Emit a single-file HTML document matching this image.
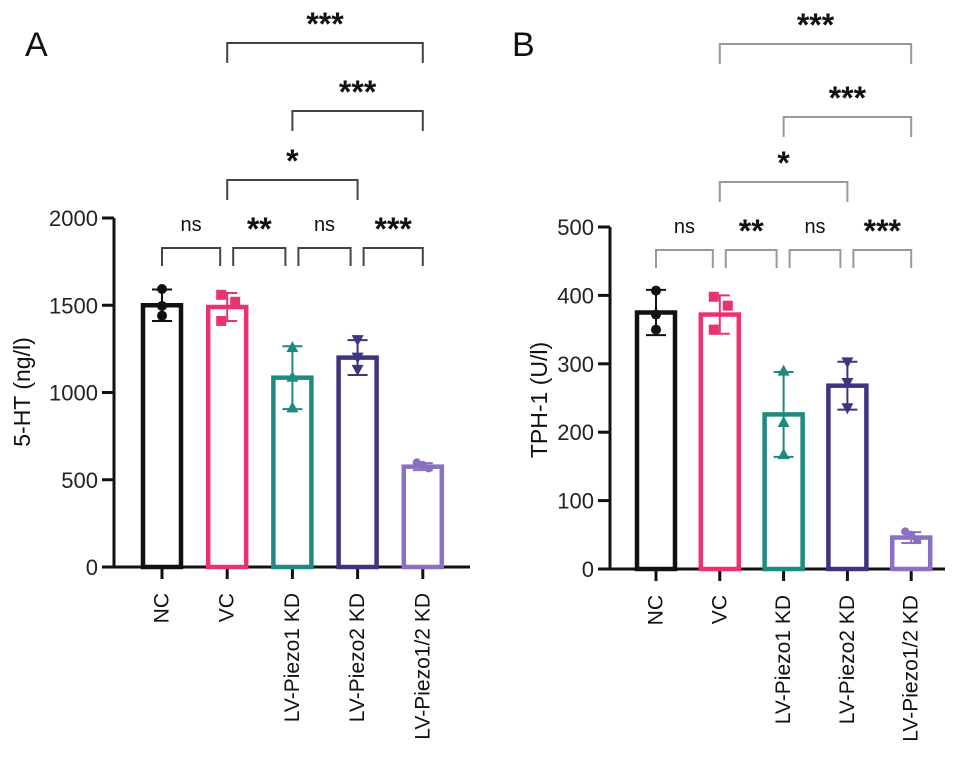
<!DOCTYPE html>
<html><head><meta charset="utf-8"><style>
body{margin:0;background:#fff}
svg{display:block;font-family:"Liberation Sans",Arial,sans-serif}
</style></head><body>
<svg id="fig" width="969" height="782" viewBox="0 0 969 782" xmlns="http://www.w3.org/2000/svg">
<text x="25" y="56" font-size="34" fill="#111">A</text>
<text x="512" y="56" font-size="34" fill="#111">B</text>
</svg>
<script>
const categories = ["NC","VC","LV-Piezo1 KD","LV-Piezo2 KD","LV-Piezo1/2 KD"];
const colors = ["#111111","#e8336e","#1f8a80","#3c3580","#8a6fc2"];
const markers = ["circle","square","up","down","diamond"];
// Panel A: 5-HT
const aMeans = [1500,1490,1085,1200,575];
const aSD = [90,80,180,100,20];
const aPoints = [[1593,1496,1440],[1560,1520,1410],[1260,1090,915],[1300,1200,1130],[600,585,565]];
const aTicks = [0,500,1000,1500,2000];
// Panel B: TPH-1
const bMeans = [375,372,226,268,46];
const bSD = [33,28,62,35,8];
const bPoints = [[407,372,350],[398,385,350],[290,215,168],[302,272,235],[55,50,42]];
const bTicks = [0,100,200,300,400,500];
const sigLabels = ["ns","**","ns","***"];
const sigTop = [["***",1,4],["***",2,4],["*",1,3]];

const NS="http://www.w3.org/2000/svg";
const svg=document.getElementById('fig');
function mk(tag,attrs,parent){const e=document.createElementNS(NS,tag);for(const k in attrs)e.setAttribute(k,attrs[k]);(parent||svg).appendChild(e);return e;}

function panel(cfg){
  const g=mk('g',{});
  
  
  const y=v=>cfg.y0-(v-0)/(cfg.max)*(cfg.y0-cfg.yTop);
  const x=i=>cfg.x0+i*cfg.step;
  const ya=mk('line',{x1:cfg.ax,y1:cfg.yTop,x2:cfg.ax,y2:cfg.y0,stroke:'#111','stroke-width':3},g);
  
  
  const xa=mk('line',{x1:cfg.ax-12,y1:cfg.y0,x2:cfg.axEnd,y2:cfg.y0,stroke:'#111','stroke-width':3},g);
  
  
  cfg.ticks.forEach(t=>{
    mk('line',{x1:cfg.ax-12,y1:y(t),x2:cfg.ax,y2:y(t),stroke:'#111','stroke-width':3},g);
    const tl=mk('text',{x:cfg.ax-16,y:y(t)+8,'font-size':22,'text-anchor':'end',fill:'#222'},g);
    tl.textContent=t;
    
    
  });
  const yt=mk('text',{x:cfg.titleX,y:cfg.titleY,'font-size':23,'text-anchor':'middle',fill:'#111',transform:`rotate(-90 ${cfg.titleX} ${cfg.titleY})`},g);
  yt.textContent=cfg.title;
  
  
  categories.forEach((c,i)=>{
    const cx=x(i), col=colors[i];
    mk('line',{x1:cx,y1:cfg.y0,x2:cx,y2:cfg.y0+12,stroke:'#111','stroke-width':3},g);
    const lb=mk('text',{x:cx,y:cfg.y0+26,'font-size':21,'text-anchor':'end','dominant-baseline':'central',fill:'#111',transform:`rotate(-90 ${cx} ${cfg.y0+26})`},g);
    lb.textContent=c;
    
    
    const top=y(cfg.means[i]);
    const b=mk('rect',{x:cx-19,y:top,width:38,height:cfg.y0-top,fill:'none',stroke:col,'stroke-width':4.5},g);
    
    
    const hi=y(cfg.means[i]+cfg.sd[i]), lo=y(cfg.means[i]-cfg.sd[i]);
    const eb=mk('path',{d:`M${cx} ${hi}V${lo}M${cx-10} ${hi}H${cx+10}M${cx-10} ${lo}H${cx+10}`,stroke:col,'stroke-width':2,fill:'none'},g);
    
    
    cfg.points[i].forEach((p,j)=>{
      const py=y(p), px=cx+(j===1?(i===1?8:0):(i===1?-6:0)), m=markers[i]; let e;
      if(m==='circle') e=mk('circle',{cx:px,cy:py,r:5,fill:col},g);
      else if(m==='square') e=mk('rect',{x:px-5,y:py-5,width:10,height:10,fill:col},g);
      else if(m==='up') e=mk('path',{d:`M${px} ${py-6}L${px+6} ${py+5}L${px-6} ${py+5}Z`,fill:col},g);
      else if(m==='down') e=mk('path',{d:`M${px} ${py+6}L${px+6} ${py-5}L${px-6} ${py-5}Z`,fill:col},g);
      else e=mk('circle',{cx:px+(j-1)*6,cy:py,r:4,fill:col},g);
      
      
    });
  });
  sigLabels.forEach((s,i)=>{
    const x1=x(i)+(i===0?0:6), x2=x(i+1)-(i===3?0:7), by=cfg.brY;
    const br=mk('path',{d:`M${x1} ${by+18}V${by}H${x2}V${by+18}`,stroke:cfg.brCol,'stroke-width':2,fill:'none'},g);
    
    
    const t=mk('text',{x:(x1+x2)/2,y:by-(s==='ns'?17:8),'font-size':s==='ns'?20:32,'font-weight':s==='ns'?'normal':'bold','text-anchor':'middle',fill:'#111'},g);
    t.textContent=s;
    
    
  });
  sigTop.forEach((s,k)=>{
    const x1=x(s[1]), x2=x(s[2]), by=cfg.topY[k];
    const br=mk('path',{d:`M${x1} ${by+20}V${by}H${x2}V${by+20}`,stroke:cfg.brCol,'stroke-width':2,fill:'none'},g);
    
    
    const t=mk('text',{x:(x1+x2)/2,y:by-8,'font-size':32,'font-weight':'bold','text-anchor':'middle',fill:'#111'},g);
    t.textContent=s[0];
    
    
  });
}
panel({name:'panel-a-5ht',ax:114,axEnd:470,x0:162,step:65.2,y0:567,yTop:218,max:2000,ticks:aTicks,means:aMeans,sd:aSD,points:aPoints,title:'5-HT (ng/l)',titleX:30,titleY:392,brY:248,brCol:'#444',topY:[43,111,180]});
panel({name:'panel-b-tph1',ax:610,axEnd:945,x0:656,step:63.8,y0:569,yTop:227,max:500,ticks:bTicks,means:bMeans,sd:bSD,points:bPoints,title:'TPH-1 (U/l)',titleX:547,titleY:400,brY:250,brCol:'#999',topY:[44,117,182]});
</script>
</body></html>
